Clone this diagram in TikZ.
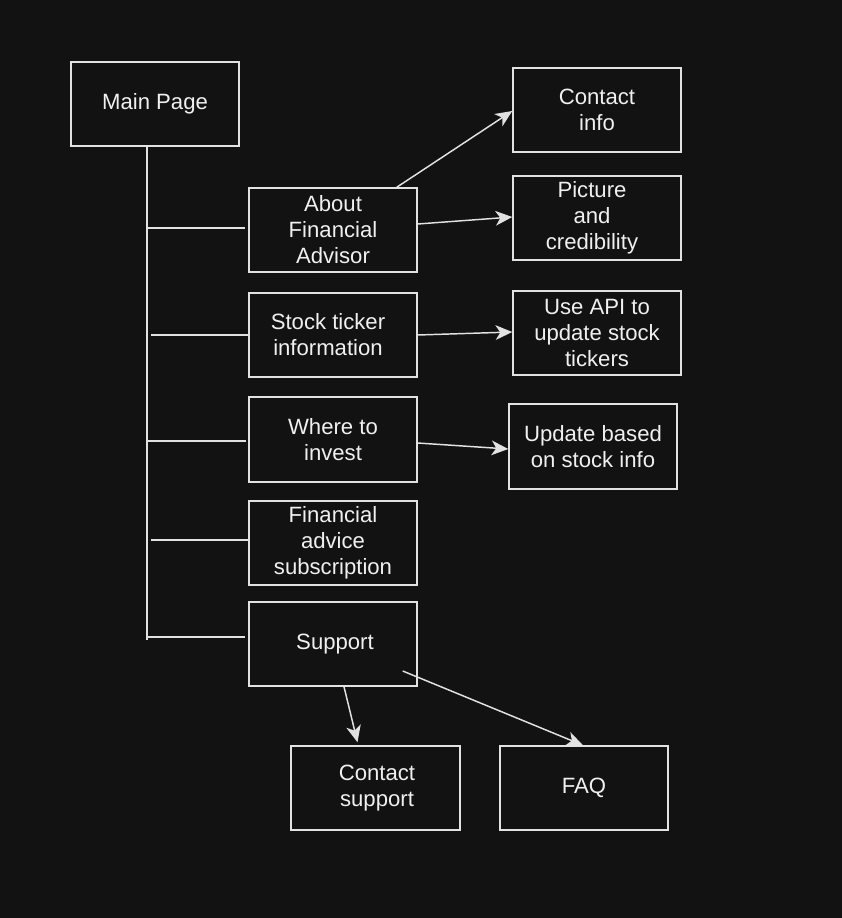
\documentclass[tikz,border=0pt]{standalone}
\usepackage{fontspec}
\setmainfont{Liberation Sans}
\usetikzlibrary{arrows.meta,calc}
\definecolor{bg}{HTML}{121212}
\definecolor{ln}{HTML}{E2E2E2}
\definecolor{tx}{HTML}{F0F0F0}
\begin{document}
\begin{tikzpicture}[x=0.75pt,y=-0.75pt,
  box/.style={draw=ln,line width=1.1pt,rectangle,minimum width=126pt,minimum height=63pt,inner sep=0pt,
    text=tx,align=center,font=\fontsize{16.6pt}{19.5pt}\selectfont},
  lbl/.style={text=tx,align=center,font=\fontsize{16.6pt}{19.5pt}\selectfont,inner sep=0pt},
  wire/.style={draw=ln,line width=1.1pt},
  arr/.style={draw=ln,line width=1.1pt,-{Stealth[length=12.5pt,width=11pt,inset=3.5pt]}}]
\fill[bg] (0,0) rectangle (842,918);
\useasboundingbox (0,0) rectangle (842,918);

\node[box] (main) at (155,104) {Main Page};
\node[box] (cinfo) at (597,110) {Contact\\ info};
\node[box] (about) at (333,230) {About\\ Financial\\ Advisor};
\node[box] (pic) at (597,218) {};
\node[lbl] (pictxt) at (592,218) {Picture\\ and\\ credibility};
\node[box] (stock) at (333,335) {};
\node[lbl] (stocktxt) at (328,335) {Stock ticker\\ information};
\node[box] (api) at (597,333) {Use API to\\ update stock\\ tickers};
\node[box,minimum height=63.75pt] (where) at (333,439.5) {Where to\\ invest};
\node[box,minimum height=63.75pt] (upd) at (593,446.5) {Update based\\ on stock info};
\node[box] (subs) at (333,543) {Financial\\ advice\\ subscription};
\node[box] (support) at (333,644) {};
\node[lbl] (supporttxt) at (335,644) {Support};
\node[box,minimum width=126.75pt] (csup) at (375.5,788) {};
\node[lbl] (csuptxt) at (377,788) {Contact\\ support};
\node[box] (faq) at (584,788) {FAQ};

% trunk
\coordinate (ttop) at (147,146);
\coordinate (tbot) at (147,640);
\draw[wire] (ttop) -- (tbot);
\coordinate (b1a) at (147,228); \coordinate (b1b) at (245,228);
\coordinate (b2a) at (151,335); \coordinate (b2b) at (249,335);
\coordinate (b3a) at (147,441); \coordinate (b3b) at (246,441);
\coordinate (b4a) at (151,540); \coordinate (b4b) at (249,540);
\coordinate (b5a) at (147,637); \coordinate (b5b) at (245,637);
\draw[wire] (b1a) -- (b1b);
\draw[wire] (b2a) -- (b2b);
\draw[wire] (b3a) -- (b3b);
\draw[wire] (b4a) -- (b4b);
\draw[wire] (b5a) -- (b5b);

% arrows
\draw[arr] ($(about.north east)+(-21,0)$) -- ($(cinfo.west)+(0,1)$);
\draw[arr] ($(about.east)+(0,-6)$) -- ($(pic.west)+(0,-1)$);
\draw[arr] (stock.east) -- ($(api.west)+(0,-1)$);
\draw[arr] ($(where.east)+(0,3.5)$) -- ($(upd.west)+(0,2.5)$);
\draw[arr] ($(support.south)+(11,0)$) -- ($(csup.north)+(-18,-3)$);
\draw[arr] ($(support.east)+(-15,27)$) -- ($(faq.north)+(-1,0)$);
\end{tikzpicture}
\end{document}
